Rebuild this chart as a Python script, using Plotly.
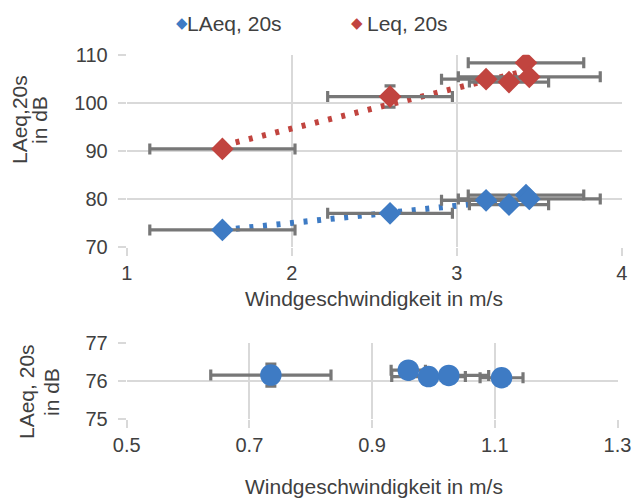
import numpy as np
import plotly.graph_objects as go

# ---- data ----
wind_top = [1.58, 2.596, 3.178, 3.317, 3.42, 3.44]
wind_top_err = [0.44, 0.378, 0.27, 0.24, 0.35, 0.43]
laeq_top = [73.55, 77.0, 79.7, 78.8, 80.8, 80.0]
leq_top = [90.4, 101.3, 104.9, 104.3, 108.3, 105.4]
leq_top_yerr = [0, 2.2, 0, 0, 0, 0]

wind_bot = [0.735, 0.959, 0.992, 1.025, 1.111]
wind_bot_err = [0.098, 0.028, 0.06, 0.065, 0.035]
laeq_bot = [76.16, 76.29, 76.12, 76.15, 76.09]
laeq_bot_yerr = [0.29, 0, 0, 0, 0]

top_xticks = [1, 2, 3, 4]
top_yticks = [70, 80, 90, 100, 110]
bot_xticks = [0.5, 0.7, 0.9, 1.1, 1.3]
bot_yticks = [75, 76, 77]

BLUE = "#3e7bc4"
RED = "#c1443f"
GRAY = "#777777"
GRID = "#d9d9d9"
TXT = "#404040"
FONT = "Liberation Sans"
W, H = 634, 498

fig = go.Figure()

# linear trendlines (least squares, like a spreadsheet trendline)
def trend(xs, ys):
    k, b = np.polyfit(xs, ys, 1)
    xr = np.array([min(xs), max(xs)])
    return xr, k * xr + b

for ys, col in [(leq_top, RED), (laeq_top, BLUE)]:
    tx, ty = trend(wind_top, ys)
    fig.add_trace(go.Scatter(x=tx, y=ty, mode="lines", xaxis="x", yaxis="y",
                             line=dict(color=col, width=6, dash="4px,9.6px"),
                             showlegend=False, hoverinfo="skip"))

fig.add_trace(go.Scatter(
    x=wind_top, y=laeq_top, mode="markers", name="LAeq, 20s", xaxis="x", yaxis="y",
    marker=dict(symbol="diamond", size=17.5, color=BLUE),
    error_x=dict(type="data", array=wind_top_err, color=GRAY, thickness=3.2, width=5.5),
    showlegend=False))
fig.add_trace(go.Scatter(
    x=wind_top, y=leq_top, mode="markers", name="Leq, 20s", xaxis="x", yaxis="y",
    marker=dict(symbol="diamond", size=17.5, color=RED),
    error_x=dict(type="data", array=wind_top_err, color=GRAY, thickness=3.2, width=5.5),
    error_y=dict(type="data", array=leq_top_yerr, color=GRAY, thickness=3.2, width=5.5),
    showlegend=False))

fig.add_trace(go.Scatter(
    x=wind_bot, y=laeq_bot, mode="markers", xaxis="x2", yaxis="y2",
    marker=dict(symbol="circle", size=21.5, color=BLUE),
    error_x=dict(type="data", array=wind_bot_err, color=GRAY, thickness=3.2, width=5.5),
    error_y=dict(type="data", array=laeq_bot_yerr, color=GRAY, thickness=3.2, width=5.5),
    showlegend=False))

ax_common = dict(showgrid=True, gridcolor=GRID, gridwidth=1.5, zeroline=False,
                 showline=False, ticks="outside", ticklen=8, tickcolor=GRID,
                 tickwidth=1.5, automargin=False, ticklabeloverflow="allow",
                 tickfont=dict(family=FONT, size=20, color=TXT))

fig.update_layout(
    width=W, height=H,
    margin=dict(l=0, r=0, t=0, b=0, pad=0),
    paper_bgcolor="white", plot_bgcolor="white",
    showlegend=False,
    xaxis=dict(domain=[126.7 / W, 621.7 / W], range=[1, 4], tickvals=top_xticks,
               anchor="y", **ax_common),
    yaxis=dict(domain=[1 - 247 / H, 1 - 54.7 / H], range=[70, 110], tickvals=top_yticks,
               anchor="x", ticklabelstandoff=6, **ax_common),
    xaxis2=dict(domain=[126.7 / W, 617.5 / W], range=[0.5, 1.3], tickvals=bot_xticks,
                tickformat=".1f", anchor="y2", **ax_common),
    yaxis2=dict(domain=[1 - 419 / H, 1 - 343.3 / H], range=[75, 77], tickvals=bot_yticks,
                anchor="x2", ticklabelstandoff=6, **ax_common),
)

def ann(text, x, y, size=21, color=TXT, angle=0, xanchor="center", family=FONT):
    fig.add_annotation(text=text, x=x / W, y=1 - y / H, xref="paper", yref="paper",
                       showarrow=False, textangle=angle, xanchor=xanchor, yanchor="middle",
                       font=dict(family=family, size=size, color=color))

# legend
ann("◆", 182, 23, size=15, color=BLUE, family="DejaVu Sans")
ann("LAeq, 20s", 185, 23, xanchor="left")
ann("◆", 357, 23, size=15, color=RED, family="DejaVu Sans")
ann("Leq, 20s", 365, 23, xanchor="left")

# axis titles
ann("LAeq,20s", 19, 120, angle=-90)
ann("in dB", 39, 120, angle=-90)
ann("Windgeschwindigkeit in m/s", 374, 298)
ann("LAeq, 20s", 26, 392, angle=-90)
ann("in dB", 51, 392, angle=-90)
ann("Windgeschwindigkeit in m/s", 374, 486)

fig.write_html("out.html", config={"displayModeBar": False},
               post_script="document.body.style.margin='0';document.body.style.overflow='hidden';")
